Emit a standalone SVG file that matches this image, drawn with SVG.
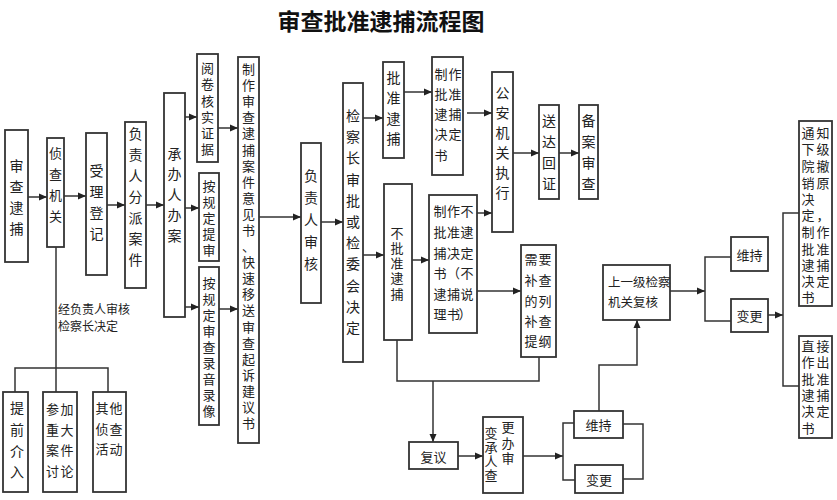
<svg xmlns="http://www.w3.org/2000/svg" width="837" height="500" viewBox="0 0 837 500">
<style>
.b{fill:#fff;stroke:#333;stroke-width:1.8}
.c{fill:none;stroke:#333;stroke-width:1.5}
.t{font-family:"Noto Sans CJK SC","Noto Sans",sans-serif;font-size:14px;fill:#222;text-anchor:middle;dominant-baseline:central}
.s{font-size:13px}
.l{font-family:"Noto Sans CJK SC","Noto Sans",sans-serif;font-size:12px;fill:#222;dominant-baseline:central}
.ttl{font-family:"Noto Sans CJK SC","Noto Sans",sans-serif;font-size:23px;font-weight:bold;fill:#111;text-anchor:middle;dominant-baseline:central}
</style>
<defs>
<marker id="ah" viewBox="0 0 8 8" refX="8" refY="4" markerWidth="8" markerHeight="8" markerUnits="userSpaceOnUse" orient="auto">
<path d="M0,0.5 L8,4 L0,7.5 z" fill="#222"/>
</marker>
</defs>
<rect width="837" height="500" fill="#fff"/>
<text class="ttl" x="381" y="20">审查批准逮捕流程图</text>

<g id="connectors">
<line class="c" x1="28" y1="197" x2="47" y2="197" marker-end="url(#ah)"/>
<line class="c" x1="64" y1="196" x2="86" y2="196" marker-end="url(#ah)"/>
<line class="c" x1="107" y1="205" x2="125" y2="205" marker-end="url(#ah)"/>
<line class="c" x1="146" y1="205" x2="164" y2="205" marker-end="url(#ah)"/>
<line class="c" x1="185" y1="117" x2="197" y2="117" marker-end="url(#ah)"/>
<line class="c" x1="185" y1="208" x2="199" y2="208" marker-end="url(#ah)"/>
<line class="c" x1="185" y1="307" x2="199" y2="307" marker-end="url(#ah)"/>
<line class="c" x1="218" y1="128" x2="238" y2="128" marker-end="url(#ah)"/>
<line class="c" x1="219" y1="309" x2="238" y2="309" marker-end="url(#ah)"/>
<line class="c" x1="259" y1="217" x2="301" y2="217" marker-end="url(#ah)"/>
<line class="c" x1="321" y1="222" x2="343" y2="222" marker-end="url(#ah)"/>
<line class="c" x1="363" y1="118" x2="383" y2="118" marker-end="url(#ah)"/>
<line class="c" x1="363" y1="255" x2="384" y2="255" marker-end="url(#ah)"/>
<line class="c" x1="404" y1="92" x2="432" y2="92" marker-end="url(#ah)"/>
<line class="c" x1="467" y1="113" x2="492" y2="113" marker-end="url(#ah)"/>
<line class="c" x1="513" y1="153" x2="539" y2="153" marker-end="url(#ah)"/>
<line class="c" x1="559" y1="153" x2="579" y2="153" marker-end="url(#ah)"/>
<line class="c" x1="412" y1="260" x2="429" y2="260" marker-end="url(#ah)"/>
<line class="c" x1="477" y1="213" x2="492" y2="213" marker-end="url(#ah)"/>
<line class="c" x1="477" y1="291" x2="521" y2="291" marker-end="url(#ah)"/>
<polyline class="c" points="397,340 397,381 539,381 539,357"/>
<line class="c" x1="433" y1="381" x2="433" y2="442" marker-end="url(#ah)"/>
<line class="c" x1="458" y1="456" x2="483" y2="456" marker-end="url(#ah)"/>
<line class="c" x1="523" y1="456" x2="563" y2="456" marker-end="url(#ah)"/>
<polyline class="c" points="574,423 563,423 563,480 575,480"/>
<polyline class="c" points="623,424 643,424 643,479 623,479"/>
<polyline class="c" points="599,411 599,365 637,365 637,320" marker-end="url(#ah)"/>
<line class="c" x1="670" y1="291" x2="705" y2="291" marker-end="url(#ah)"/>
<polyline class="c" points="731,257 705,257 705,321 731,321"/>
<line class="c" x1="768" y1="315" x2="783" y2="315" marker-end="url(#ah)"/>
<polyline class="c" points="799,213 783,213 783,386 799,386"/>
<line class="c" x1="56" y1="247" x2="56" y2="392"/>
<polyline class="c" points="15,392 15,368 108,368 108,392"/>
<text class="l" x="58" y="308">经负责人审核</text>
<text class="l" x="58" y="325">检察长决定</text>
</g>

<g id="n1"><rect class="b" x="5" y="130" width="23" height="132"/>
<text class="t"><tspan x="16.5" y="164.5">审</tspan><tspan x="16.5" y="185.5">查</tspan><tspan x="16.5" y="206.5">逮</tspan><tspan x="16.5" y="227.5">捕</tspan></text></g>

<g id="n2"><rect class="b" x="47" y="138" width="17" height="109"/>
<text class="t s"><tspan x="55.5" y="152">侦</tspan><tspan x="55.5" y="173">查</tspan><tspan x="55.5" y="194">机</tspan><tspan x="55.5" y="215">关</tspan></text></g>

<g id="n3"><rect class="b" x="86" y="133" width="21" height="142"/>
<text class="t"><tspan x="96.5" y="170">受</tspan><tspan x="96.5" y="191">理</tspan><tspan x="96.5" y="212">登</tspan><tspan x="96.5" y="233">记</tspan></text></g>

<g id="n4"><rect class="b" x="125" y="122" width="21" height="166"/>
<text class="t"><tspan x="135.5" y="133">负</tspan><tspan x="135.5" y="154">责</tspan><tspan x="135.5" y="175">人</tspan><tspan x="135.5" y="196">分</tspan><tspan x="135.5" y="217">派</tspan><tspan x="135.5" y="238">案</tspan><tspan x="135.5" y="259">件</tspan></text></g>

<g id="n5"><rect class="b" x="164" y="93" width="21" height="224"/>
<text class="t"><tspan x="174.5" y="153">承</tspan><tspan x="174.5" y="173">办</tspan><tspan x="174.5" y="194">人</tspan><tspan x="174.5" y="214">办</tspan><tspan x="174.5" y="235">案</tspan></text></g>

<g id="n6"><rect class="b" x="197" y="54" width="21" height="108"/>
<text class="t s"><tspan x="207.5" y="67">阅</tspan><tspan x="207.5" y="83">卷</tspan><tspan x="207.5" y="100">核</tspan><tspan x="207.5" y="116">实</tspan><tspan x="207.5" y="132">证</tspan><tspan x="207.5" y="148">据</tspan></text></g>

<g id="n7"><rect class="b" x="199" y="173" width="20" height="88"/>
<text class="t s"><tspan x="209" y="185">按</tspan><tspan x="209" y="201">规</tspan><tspan x="209" y="217">定</tspan><tspan x="209" y="233">提</tspan><tspan x="209" y="249">审</tspan></text></g>

<g id="n8"><rect class="b" x="199" y="267" width="20" height="158"/>
<text class="t s"><tspan x="209" y="282">按</tspan><tspan x="209" y="298">规</tspan><tspan x="209" y="314">定</tspan><tspan x="209" y="330">审</tspan><tspan x="209" y="346">查</tspan><tspan x="209" y="362">录</tspan><tspan x="209" y="378">音</tspan><tspan x="209" y="394">录</tspan><tspan x="209" y="410">像</tspan></text></g>

<g id="n9"><rect class="b" x="238" y="57" width="21" height="386"/>
<text class="t s"><tspan x="248.5" y="68">制</tspan><tspan x="248.5" y="84">作</tspan><tspan x="248.5" y="100">审</tspan><tspan x="248.5" y="116">查</tspan><tspan x="248.5" y="132">逮</tspan><tspan x="248.5" y="149">捕</tspan><tspan x="248.5" y="165">案</tspan><tspan x="248.5" y="181">件</tspan><tspan x="248.5" y="197">意</tspan><tspan x="248.5" y="213">见</tspan><tspan x="248.5" y="229">书</tspan><tspan x="248.5" y="245">、</tspan><tspan x="248.5" y="261">快</tspan><tspan x="248.5" y="277">速</tspan><tspan x="248.5" y="293">移</tspan><tspan x="248.5" y="309">送</tspan><tspan x="248.5" y="326">审</tspan><tspan x="248.5" y="342">查</tspan><tspan x="248.5" y="358">起</tspan><tspan x="248.5" y="374">诉</tspan><tspan x="248.5" y="390">建</tspan><tspan x="248.5" y="406">议</tspan><tspan x="248.5" y="422">书</tspan></text></g>

<g id="n10"><rect class="b" x="301" y="143" width="20" height="160"/>
<text class="t"><tspan x="311" y="175">负</tspan><tspan x="311" y="197">责</tspan><tspan x="311" y="219">人</tspan><tspan x="311" y="241">审</tspan><tspan x="311" y="263">核</tspan></text></g>

<g id="n11"><rect class="b" x="343" y="83" width="20" height="279"/>
<text class="t"><tspan x="353" y="115">检</tspan><tspan x="353" y="136">察</tspan><tspan x="353" y="157">长</tspan><tspan x="353" y="179">审</tspan><tspan x="353" y="200">批</tspan><tspan x="353" y="221">或</tspan><tspan x="353" y="242">检</tspan><tspan x="353" y="263">委</tspan><tspan x="353" y="285">会</tspan><tspan x="353" y="306">决</tspan><tspan x="353" y="327">定</tspan></text></g>

<g id="n12"><rect class="b" x="383" y="62" width="21" height="96"/>
<text class="t"><tspan x="393.5" y="77">批</tspan><tspan x="393.5" y="97">准</tspan><tspan x="393.5" y="118">逮</tspan><tspan x="393.5" y="138">捕</tspan></text></g>

<g id="n13"><rect class="b" x="432" y="57" width="31" height="118"/>
<text class="t s"><tspan x="441" y="73">制</tspan><tspan x="455" y="73">作</tspan><tspan x="441" y="93">批</tspan><tspan x="455" y="93">准</tspan><tspan x="441" y="113">逮</tspan><tspan x="455" y="113">捕</tspan><tspan x="441" y="133">决</tspan><tspan x="455" y="133">定</tspan><tspan x="441" y="154">书</tspan></text></g>

<g id="n14"><rect class="b" x="492" y="72" width="21" height="160"/>
<text class="t"><tspan x="502.5" y="92">公</tspan><tspan x="502.5" y="112">安</tspan><tspan x="502.5" y="132">机</tspan><tspan x="502.5" y="152">关</tspan><tspan x="502.5" y="172">执</tspan><tspan x="502.5" y="192">行</tspan></text></g>

<g id="n15"><rect class="b" x="539" y="105" width="20" height="94"/>
<text class="t"><tspan x="549" y="120">送</tspan><tspan x="549" y="141">达</tspan><tspan x="549" y="162">回</tspan><tspan x="549" y="183">证</tspan></text></g>

<g id="n16"><rect class="b" x="579" y="105" width="19" height="94"/>
<text class="t"><tspan x="588.5" y="120">备</tspan><tspan x="588.5" y="141">案</tspan><tspan x="588.5" y="162">审</tspan><tspan x="588.5" y="183">查</tspan></text></g>

<g id="n17"><rect class="b" x="384" y="184" width="28" height="156"/>
<text class="t s"><tspan x="397" y="232">不</tspan><tspan x="397" y="247">批</tspan><tspan x="397" y="262">准</tspan><tspan x="397" y="277">逮</tspan><tspan x="397" y="293">捕</tspan></text></g>

<g id="n18"><rect class="b" x="429" y="195" width="48" height="138"/>
<text class="t s"><tspan x="440" y="210">制</tspan><tspan x="453.5" y="210">作</tspan><tspan x="467" y="210">不</tspan><tspan x="440" y="231">批</tspan><tspan x="453.5" y="231">准</tspan><tspan x="467" y="231">逮</tspan><tspan x="440" y="252">捕</tspan><tspan x="453.5" y="252">决</tspan><tspan x="467" y="252">定</tspan><tspan x="440" y="272">书</tspan><tspan x="453.5" y="272">（</tspan><tspan x="467" y="272">不</tspan><tspan x="440" y="293">逮</tspan><tspan x="453.5" y="293">捕</tspan><tspan x="467" y="293">说</tspan><tspan x="440" y="313">理</tspan><tspan x="453.5" y="313">书</tspan><tspan x="465" y="313">）</tspan></text></g>

<g id="n19"><rect class="b" x="521" y="245" width="35" height="112"/>
<text class="t s"><tspan x="531" y="258">需</tspan><tspan x="545" y="258">要</tspan><tspan x="531" y="279">补</tspan><tspan x="545" y="279">查</tspan><tspan x="531" y="300">的</tspan><tspan x="545" y="300">列</tspan><tspan x="531" y="320">补</tspan><tspan x="545" y="320">查</tspan><tspan x="531" y="340">提</tspan><tspan x="545" y="340">纲</tspan></text></g>

<g id="n20"><rect class="b" x="409" y="442" width="49" height="27"/>
<text class="t s" x="433.5" y="456">复议</text></g>

<g id="n21"><rect class="b" x="483" y="417" width="40" height="76"/>
<text class="t s"><tspan x="491" y="432">变</tspan><tspan x="491" y="446">承</tspan><tspan x="491" y="460">人</tspan><tspan x="491" y="474">查</tspan><tspan x="508" y="426">更</tspan><tspan x="508" y="442">办</tspan><tspan x="508" y="457">审</tspan></text></g>

<g id="n22"><rect class="b" x="574" y="411" width="49" height="27"/>
<text class="t s" x="598.5" y="424.5">维持</text></g>

<g id="n23"><rect class="b" x="575" y="465" width="48" height="28"/>
<text class="t s" x="599" y="479">变更</text></g>

<g id="n24"><rect class="b" x="603" y="265" width="67" height="55"/>
<text class="l" x="608" y="281" style="font-size:12.5px">上一级检察</text>
<text class="l" x="608" y="301" style="font-size:12.5px">机关复核</text></g>

<g id="n25"><rect class="b" x="731" y="237" width="37" height="34"/>
<text class="t s" x="749.5" y="254">维持</text></g>

<g id="n26"><rect class="b" x="731" y="299" width="37" height="33"/>
<text class="t s" x="749.5" y="315.5">变更</text></g>

<g id="n27"><rect class="b" x="799" y="121" width="33" height="185"/>
<text class="t s"><tspan x="808" y="132">通</tspan><tspan x="823" y="132">知</tspan><tspan x="808" y="148">下</tspan><tspan x="823" y="148">级</tspan><tspan x="808" y="165">院</tspan><tspan x="823" y="165">撤</tspan><tspan x="808" y="182">销</tspan><tspan x="823" y="182">原</tspan><tspan x="808" y="198">决</tspan><tspan x="808" y="214">定</tspan><tspan x="823" y="214">，</tspan><tspan x="808" y="231">制</tspan><tspan x="823" y="231">作</tspan><tspan x="808" y="248">批</tspan><tspan x="823" y="248">准</tspan><tspan x="808" y="264">逮</tspan><tspan x="823" y="264">捕</tspan><tspan x="808" y="280">决</tspan><tspan x="823" y="280">定</tspan><tspan x="808" y="296">书</tspan></text></g>

<g id="n28"><rect class="b" x="799" y="336" width="33" height="102"/>
<text class="t s"><tspan x="808" y="345">直</tspan><tspan x="823" y="345">接</tspan><tspan x="808" y="361">作</tspan><tspan x="823" y="361">出</tspan><tspan x="808" y="378">批</tspan><tspan x="823" y="378">准</tspan><tspan x="808" y="394">逮</tspan><tspan x="823" y="394">捕</tspan><tspan x="808" y="410">决</tspan><tspan x="823" y="410">定</tspan><tspan x="808" y="427">书</tspan></text></g>

<g id="n29"><rect class="b" x="3" y="392" width="25" height="100"/>
<text class="t"><tspan x="17" y="407">提</tspan><tspan x="17" y="429">前</tspan><tspan x="17" y="451">介</tspan><tspan x="17" y="471">入</tspan></text></g>

<g id="n30"><rect class="b" x="43" y="392" width="34" height="100"/>
<text class="t s"><tspan x="52.5" y="408">参</tspan><tspan x="67" y="408">加</tspan><tspan x="52.5" y="429">重</tspan><tspan x="67" y="429">大</tspan><tspan x="52.5" y="449">案</tspan><tspan x="67" y="449">件</tspan><tspan x="52.5" y="470">讨</tspan><tspan x="67" y="470">论</tspan></text></g>

<g id="n31"><rect class="b" x="93" y="392" width="33" height="100"/>
<text class="t s"><tspan x="102" y="407">其</tspan><tspan x="116" y="407">他</tspan><tspan x="102" y="428">侦</tspan><tspan x="116" y="428">查</tspan><tspan x="102" y="448">活</tspan><tspan x="116" y="448">动</tspan></text></g>
</svg>
